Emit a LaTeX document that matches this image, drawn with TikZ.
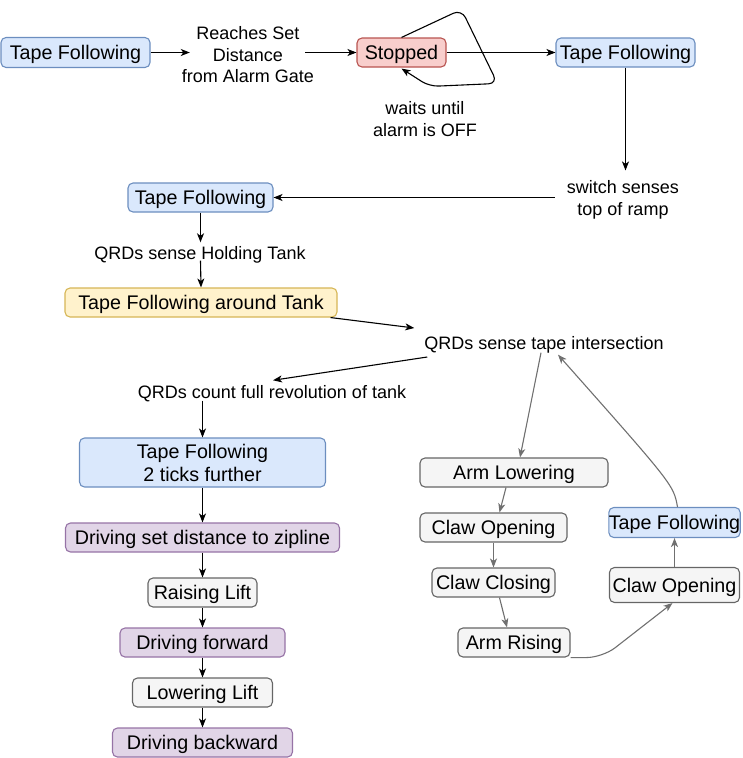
\documentclass[tikz,border=0pt]{standalone}
\usepackage{fontspec}
\setmainfont{Liberation Sans}
\usetikzlibrary{arrows.meta,calc}
\definecolor{bfill}{HTML}{DAE8FC}\definecolor{bdraw}{HTML}{6C8EBF}
\definecolor{rfill}{HTML}{F8CECC}\definecolor{rdraw}{HTML}{B85450}
\definecolor{yfill}{HTML}{FFF2CC}\definecolor{ydraw}{HTML}{D6B656}
\definecolor{pfill}{HTML}{E1D5E7}\definecolor{pdraw}{HTML}{9673A6}
\definecolor{gfill}{HTML}{F5F5F5}\definecolor{gdraw}{HTML}{666666}
\definecolor{garrow}{HTML}{707070}
\newcommand\boxfnt{\fontsize{19.7}{23}\selectfont}
\newcommand\lblfnt{\fontsize{18}{21.7}\selectfont}
\tikzset{
  box/.style={rectangle, rounded corners=5pt, draw, line width=1.1pt, inner sep=0pt, font=\boxfnt, align=center, text depth=0pt},
  bluebox/.style={box, fill=bfill, draw=bdraw},
  redbox/.style={box, fill=rfill, draw=rdraw},
  yelbox/.style={box, fill=yfill, draw=ydraw},
  purbox/.style={box, fill=pfill, draw=pdraw},
  grybox/.style={box, fill=gfill, draw=gdraw},
  lbl/.style={inner sep=0pt, font=\lblfnt, align=center, text depth=0pt},
  conn/.style={draw=black, line width=1.1pt, -{Stealth[length=9pt,width=7pt,inset=2.5pt]}},
  gconn/.style={draw=garrow, line width=1.1pt, -{Stealth[length=9pt,width=7pt,inset=2.5pt]}},
}
\begin{document}
\begin{tikzpicture}[x=1pt,y=-1pt]
\useasboundingbox (0,0) rectangle (742,758);
% nodes
\node[bluebox, minimum width=149pt, minimum height=30pt] (tf1) at (75.5,52.5) {Tape Following};
\node[lbl] (l1) at (248,54.5) {Reaches Set\\Distance\\from Alarm Gate};
\node[redbox, minimum width=89pt, minimum height=29pt] (stop) at (401.5,52.5) {Stopped};
\node[bluebox, minimum width=139pt, minimum height=29pt] (tf2) at (625.5,52.5) {Tape Following};
\node[lbl] (l2) at (425,119) {waits until\\alarm is OFF};
\node[lbl] (l3) at (623,198) {switch senses\\top of ramp};
\node[bluebox, minimum width=145pt, minimum height=29pt] (tf3) at (200.5,197.5) {Tape Following};
\node[lbl] (l4) at (200,253) {QRDs sense Holding Tank};
\node[yelbox, minimum width=272pt, minimum height=29pt] (tank) at (201,302.5) {Tape Following around Tank};
\node[lbl] (l5) at (544,343) {QRDs sense tape intersection};
\node[lbl] (l6) at (272,392) {QRDs count full revolution of tank};
\node[bluebox, minimum width=246pt, minimum height=49pt] (tft) at (202.5,462.5) {Tape Following\\2 ticks further};
\node[purbox, minimum width=274pt, minimum height=29pt] (dsd) at (202.5,537.5) {Driving set distance to zipline};
\node[grybox, minimum width=109pt, minimum height=29pt] (rise) at (202.5,592.5) {Raising Lift};
\node[purbox, minimum width=165pt, minimum height=29pt] (dfw) at (202.5,642.5) {Driving forward};
\node[grybox, minimum width=140pt, minimum height=29pt] (lowr) at (202.5,692.5) {Lowering Lift};
\node[purbox, minimum width=180pt, minimum height=29pt] (dbw) at (202.5,742.5) {Driving backward};
\node[grybox, minimum width=188pt, minimum height=29pt] (arml) at (514,472.5) {Arm Lowering};
\node[grybox, minimum width=147pt, minimum height=29pt] (co1) at (493.5,527.5) {Claw Opening};
\node[grybox, minimum width=123pt, minimum height=29pt] (cc) at (493.5,582.5) {Claw Closing};
\node[grybox, minimum width=112pt, minimum height=29pt] (ar) at (514,642.5) {Arm Rising};
\node[grybox, minimum width=130pt, minimum height=35pt] (co2) at (674.5,585) {Claw Opening};
\node[bluebox, minimum width=130pt, minimum height=30pt] (tf4) at (674.5,522.5) {Tape Following};
% connectors
\draw[conn] (tf1.east) -- ($(l1.west |- tf1.east)+(8,0)$);
\draw[conn] ($(l1.east |- stop.west)+(-9,0)$) -- (stop.west);
\draw[conn] (stop.east) -- (tf2.west);
\draw[conn, rounded corners=9pt] (stop.north) -- ($(stop.north)+(60,-28)$) -- ($(stop.north)+(96,46)$) -- ($(stop.north)+(28,49)$) -- ($(stop.south)+(0,1)$);
\draw[conn] (tf2.south) -- ([yshift=10pt]tf2.south |- l3.north);
\draw[conn] ($(l3.west |- tf3.east)+(-12,0)$) -- (tf3.east);
\draw[conn] (tf3.south) -- ([yshift=4pt]tf3.south |- l4.north);
\draw[conn] ([yshift=-1pt]tf3.south |- l4.south) -- (tank.north);
\draw[conn] ($(tank.south east)+(-7,0)$) -- ($(l5.west)+(-10,-15)$);
\draw[conn] ($(l5.west)+(3,14)$) -- ($(l6.north)+(1,-5)$);
\draw[conn] ([yshift=-2pt]tft.north |- l6.south) -- (tft.north);
\draw[conn] (tft.south) -- (dsd.north);
\draw[conn] (dsd.south) -- (rise.north);
\draw[conn] (rise.south) -- (dfw.north);
\draw[conn] (dfw.south) -- (lowr.north);
\draw[conn] (lowr.south) -- (dbw.north);
% right cluster
\draw[gconn] ($(l5.south)+(-3,3)$) -- ($(arml.north)+(6,0)$);
\draw[gconn] ($(arml.south)+(-8,0)$) -- ($(co1.north)+(6,0)$);
\draw[gconn] (co1.south) -- (cc.north);
\draw[gconn] ($(cc.south)+(6,0)$) -- ($(ar.north)+(-7,0)$);
\draw[gconn, rounded corners=16pt] (ar.south east) -- ($(ar.south east)+(32,0)$) -- ($(co2.south)+(-2,0)$);
\draw[gconn, line width=1.8pt] (co2.north) -- (tf4.south);
\draw[gconn] ($(tf4.north)+(3,0)$) .. controls ($(tf4.north)+(-1,-22)$) .. ($(l5.south)+(14,5)$);
\end{tikzpicture}
\end{document}
